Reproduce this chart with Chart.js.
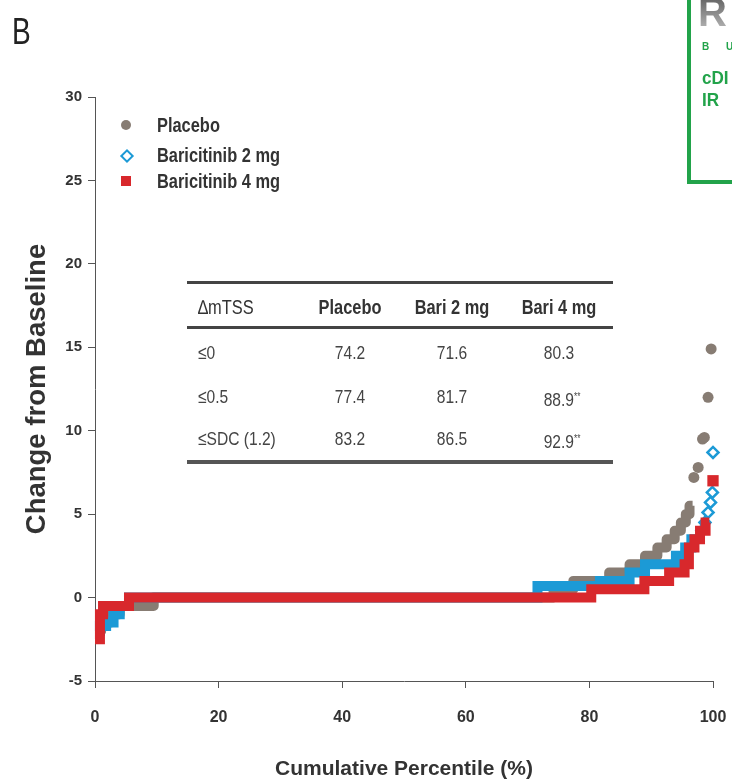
<!DOCTYPE html>
<html>
<head>
<meta charset="utf-8">
<script src="https://cdn.jsdelivr.net/npm/chart.js@4.4.0/dist/chart.umd.min.js"></script>
<style>
  body { margin: 0; background: #fff; overflow: hidden; }
  #wrap { position: relative; width: 732px; height: 784px; overflow: hidden; }
  #chart { position: absolute; left: 0; top: 0; }
  .txt { position: absolute; white-space: nowrap; font-family: 'Liberation Sans', Arial, sans-serif; color: #333; }
  .rule { position: absolute; left: 187px; width: 426px; background: #444; }
  #greenBox { position: absolute; left: 687px; top: -6px; width: 80px; height: 190px; border: 4px solid #22a34a; box-sizing: border-box; }
</style>
</head>
<body>
<div id="wrap">
  <canvas id="chart" width="732" height="784"></canvas>
  <div id="greenBox"></div>
</div>
<script>
// ---------- data ----------
const xTicks = [0, 20, 40, 60, 80, 100];
const yTicks = [-5, 0, 5, 10, 15, 20, 25, 30];

// step bands (percentile where each step starts, value of the step)
const placeboStepPct = [0, 1, 2.5, 4, 9.5, 74.2, 77.4, 83.2, 86.5, 89, 91, 92.5, 93.8, 94.8, 95.6, 96.2, 96.7];
const placeboStepVal = [-2, -1.5, -1, -0.5, 0, 0.5, 1.0, 1.5, 2.0, 2.5, 3.0, 3.5, 4.0, 4.5, 5.0, 5.5, 5.5];
const placeboDotPct = [96.9, 97.6, 98.3, 98.6, 99.2, 99.7];
const placeboDotVal = [7.2, 7.8, 9.5, 9.6, 12.0, 14.9];

const bari2StepPct = [0, 0.8, 1.8, 3, 4, 5.5, 71.6, 81.7, 86.5, 89, 94, 95.5, 96.5, 97.8];
const bari2StepVal = [-2, -1.7, -1.5, -1, -0.5, 0, 0.7, 1.0, 1.5, 2.0, 2.5, 3.0, 3.5, 3.5];
const bari2DotPct = [98.2, 98.7, 99.2, 99.6, 99.9, 100];
const bari2DotVal = [4.0, 4.5, 5.1, 5.7, 6.3, 8.7];

const bari4StepPct = [0, 0.8, 1.3, 5.5, 80.3, 88.9, 92.9, 95.4, 96.1, 97.0, 97.9, 98.8, 99.4];
const bari4StepVal = [-2.5, -1, -0.5, 0, 0.5, 1.0, 1.5, 2.0, 3.0, 3.5, 4.0, 4.5, 4.5];
const bari4DotPct = [100];
const bari4DotVal = [7.0];

// table
const tableHead = ['\u2206mTSS', 'Placebo', 'Bari 2 mg', 'Bari 4 mg'];
const tableRowLabels = ['\u22640', '\u22640.5', '\u2264SDC (1.2)'];
const tablePlacebo = ['74.2', '77.4', '83.2'];
const tableBari2 = ['71.6', '81.7', '86.5'];
const tableBari4 = ['80.3', '88.9**', '92.9**'];

const seriesNames = ['Placebo', 'Baricitinib 2 mg', 'Baricitinib 4 mg'];

// ---------- colours ----------
const GRAY = '#877c73';
const BLUE = '#1c9ad6';
const RED = '#d8282c';

const wrap = document.getElementById('wrap');

// narrow bold look: regular Liberation Sans squeezed sideways
function addText(str, x, y, size, weight, align, color, squeeze) {
  const el = document.createElement('div');
  el.className = 'txt';
  el.style.fontSize = size + 'px';
  el.style.lineHeight = size + 'px';
  el.style.fontWeight = weight;
  el.style.top = (y - size / 2) + 'px';
  el.style.left = x + 'px';
  if (color) el.style.color = color;
  const sx = squeeze || 0.82;
  if (align === 'center') {
    el.style.transform = 'translateX(-50%) scaleX(' + sx + ')';
    el.style.transformOrigin = 'center center';
  } else {
    el.style.transform = 'scaleX(' + sx + ')';
    el.style.transformOrigin = 'left center';
  }
  const m = str.match(/^(.*?)(\*\*)$/);
  if (m) {
    el.textContent = m[1];
    const s = document.createElement('span');
    s.textContent = m[2];
    s.style.fontSize = '10px';
    s.style.verticalAlign = '6px';
    el.appendChild(s);
  } else {
    el.textContent = str;
  }
  wrap.appendChild(el);
  return el;
}

function addRule(y, h, color) {
  const r = document.createElement('div');
  r.className = 'rule';
  r.style.top = y + 'px';
  r.style.height = h + 'px';
  if (color) r.style.background = color;
  wrap.appendChild(r);
}

// panel letter
addText('B', 12, 32, 36, 'normal', 'left', '#222', 0.78);

// legend
const legendY = [125, 155, 181];
seriesNames.forEach((name, i) => {
  addText(name, 157, legendY[i], 20, 'bold', 'left', '#333');
  const mk = document.createElement('div');
  mk.style.position = 'absolute';
  if (i === 0) {
    Object.assign(mk.style, { left: '121px', top: (legendY[i] - 5) + 'px', width: '10px', height: '10px', borderRadius: '50%', background: GRAY });
  } else if (i === 1) {
    Object.assign(mk.style, { left: '122px', top: (legendY[i] - 4) + 'px', width: '6px', height: '6px', border: '2.5px solid ' + BLUE, background: '#fff', transform: 'rotate(45deg)' });
  } else {
    Object.assign(mk.style, { left: '121px', top: (legendY[i] - 5) + 'px', width: '10px', height: '10px', background: RED });
  }
  wrap.appendChild(mk);
});

// table
const colX = [198, 350, 452, 559];
addRule(281, 3);
addRule(326, 3);
addRule(460, 4, '#555');
tableHead.forEach((h, i) => {
  if (i === 0) addText(h, colX[0], 307, 20, 'normal', 'left', '#333');
  else addText(h, colX[i], 307, 20, 'bold', 'center', '#333');
});
const rowY = [352, 396, 438];
tableRowLabels.forEach((lab, r) => {
  addText(lab, colX[0], rowY[r], 19, 'normal', 'left', '#444');
  addText(tablePlacebo[r], colX[1], rowY[r], 19, 'normal', 'center', '#444');
  addText(tableBari2[r], colX[2], rowY[r], 19, 'normal', 'center', '#444');
  addText(tableBari4[r], colX[3] + (tableBari4[r].endsWith('**') ? 3 : 0), rowY[r], 19, 'normal', 'center', '#444');
});

// cropped logo box at top right
const logo = addText('R', 698, 12, 40, 'bold', 'left', '#777', 1);
logo.style.background = 'linear-gradient(#555, #bbb)';
logo.style.webkitBackgroundClip = 'text';
logo.style.color = 'transparent';
addText('B U', 702, 47, 10, 'bold', 'left', '#22a34a', 1).style.letterSpacing = '7px';
addText('cDI', 702, 77, 19, 'bold', 'left', '#22a34a', 0.9);
addText('IR', 702, 99, 19, 'bold', 'left', '#22a34a', 0.9);

// ---------- chart ----------
function pts(px, vy) {
  return px.map((p, i) => ({ x: p, y: vy[i] }));
}

function band(data, color, order, join) {
  return {
    data: data,
    showLine: true,
    stepped: 'before',
    borderColor: color,
    backgroundColor: color,
    borderWidth: 10,
    borderJoinStyle: join,
    borderCapStyle: 'butt',
    pointRadius: 0,
    order: order,
    clip: 14
  };
}

Chart.defaults.font.family = "'Liberation Sans', Arial, sans-serif";
Chart.defaults.color = '#333';

new Chart(document.getElementById('chart'), {
  type: 'scatter',
  data: {
    datasets: [
      band(pts(placeboStepPct, placeboStepVal), GRAY, 6, 'round'),
      {
        data: pts(placeboDotPct, placeboDotVal),
        pointStyle: 'circle', pointRadius: 5.5,
        backgroundColor: GRAY, borderColor: GRAY, borderWidth: 0,
        order: 5, clip: 14
      },
      band(pts(bari2StepPct, bari2StepVal), BLUE, 4, 'miter'),
      {
        data: pts(bari2DotPct, bari2DotVal),
        pointStyle: 'rectRot', pointRadius: 5.5,
        backgroundColor: '#fff', borderColor: BLUE, borderWidth: 2.5,
        order: 3, clip: 14
      },
      band(pts(bari4StepPct, bari4StepVal), RED, 2, 'miter'),
      {
        data: pts(bari4DotPct, bari4DotVal),
        pointStyle: 'rect', pointRadius: 8,
        backgroundColor: RED, borderColor: RED, borderWidth: 0,
        order: 1, clip: 14
      }
    ]
  },
  options: {
    responsive: false,
    animation: false,
    layout: { padding: { top: 97, right: 4, left: 0, bottom: 0 } },
    plugins: { legend: { display: false }, tooltip: { enabled: false } },
    scales: {
      x: {
        type: 'linear', min: 0, max: 100,
        afterBuildTicks: s => { s.ticks = xTicks.map(v => ({ value: v })); },
        afterFit: s => { s.height = 103; s.paddingRight = 19; s.paddingLeft = 0; },
        grid: { drawOnChartArea: false, drawTicks: true, tickLength: 7, color: '#555' },
        border: { color: '#555', width: 1 },
        ticks: { padding: 20, font: { size: 16, weight: 'bold' }, color: '#333' },
        title: { display: true, text: 'Cumulative Percentile (%)', font: { size: 21, weight: 'bold' }, color: '#333', padding: { top: 0, bottom: 2 } }
      },
      y: {
        type: 'linear', min: -5, max: 30,
        afterBuildTicks: s => { s.ticks = yTicks.map(v => ({ value: v })); },
        afterFit: s => { s.width = 95; },
        grid: { drawOnChartArea: false, drawTicks: true, tickLength: 7, color: '#555' },
        border: { color: '#555', width: 1 },
        ticks: { padding: 6, font: { size: 15, weight: 'bold' }, color: '#333' },
        title: { display: true, text: 'Change from Baseline', font: { size: 27.5, weight: 'bold' }, color: '#333', padding: { top: 21, bottom: 0 } }
      }
    }
  }
});
</script>
</body>
</html>
